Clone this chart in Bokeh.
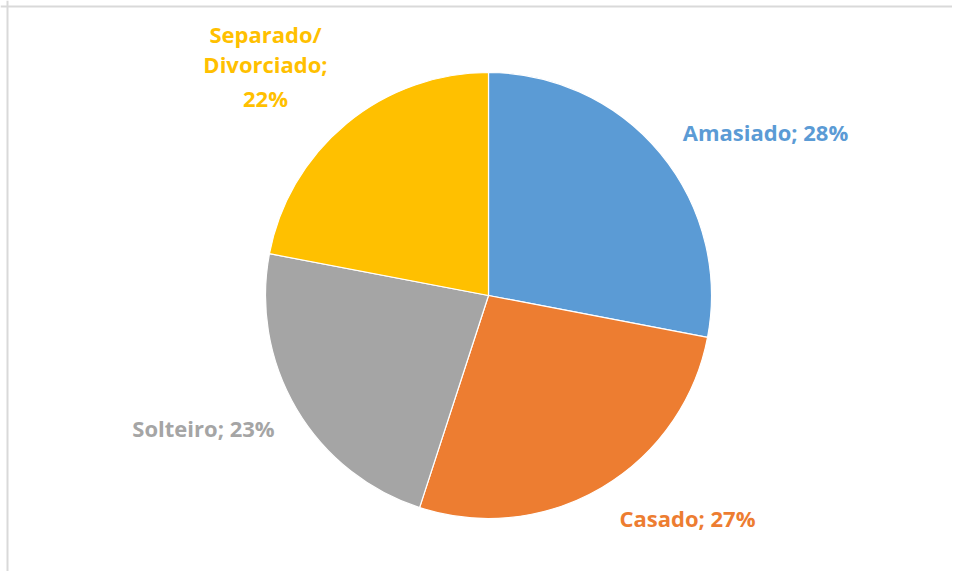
import math
from bokeh.plotting import figure
from bokeh.models import Range1d, ColumnDataSource, Span
from bokeh.core.properties import value
from bokeh.embed import file_html
from bokeh.resources import INLINE

names = ["Amasiado", "Casado", "Solteiro", "Separado/Divorciado"]
percents = [28, 27, 23, 22]
colors = ["#5B9BD5", "#ED7D31", "#A5A5A5", "#FFC000"]

W, H = 952, 571
FONT = value("Open Sans")
p = figure(width=W, height=H, output_backend="svg", toolbar_location=None,
           x_range=Range1d(0, W), y_range=Range1d(579 - H, 579), min_border=0)
p.axis.visible = False
p.grid.visible = False
p.outline_line_color = None
p.background_fill_color = "white"

cx, cy, r = 488, 579 - 295, 223
total = sum(percents)
starts, ends = [], []
acc = 0
for v in percents:
    starts.append(math.pi / 2 - 2 * math.pi * acc / total)
    acc += v
    ends.append(math.pi / 2 - 2 * math.pi * acc / total)

src = ColumnDataSource(dict(start=starts, end=ends, color=colors))
p.wedge(x=cx, y=cy, radius=r, start_angle="start", end_angle="end", direction="clock",
        fill_color="color", line_color="white", line_width=1.2, source=src)

label_pos = [(765, 131), (687, 517), (203, 427)]
for i in range(3):
    lx, ly = label_pos[i]
    p.text(x=[lx], y=[579 - ly], text=[f"{names[i]}; {percents[i]}%"],
           text_color=colors[i], text_font=FONT, text_font_style="bold",
           text_font_size="22px", text_align="center", text_baseline="middle")
sep_lines = ["Separado/", "Divorciado;", f"{percents[3]}%"]
for t, ly in zip(sep_lines, [33, 63, 97]):
    p.text(x=[265], y=[579 - ly], text=[t], text_color=colors[3], text_font=FONT,
           text_font_style="bold", text_font_size="22px", text_align="center",
           text_baseline="middle")

p.add_layout(Span(location=7, dimension="height", line_color="#D9D9D9", line_width=2))
p.add_layout(Span(location=579 - 6, dimension="width", line_color="#D9D9D9", line_width=2))

open("out.html", "w").write(file_html(p, INLINE))
